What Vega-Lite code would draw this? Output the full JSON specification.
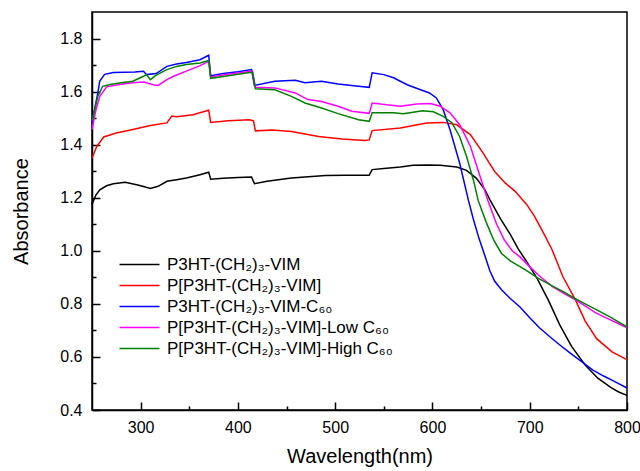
{
  "$schema": "https://vega.github.io/schema/vega-lite/v6.json",
  "width": 535,
  "height": 398,
  "autosize": {"type": "none"},
  "padding": {"left": 92, "top": 12, "right": 13, "bottom": 61},
  "background": "white",
  "config": {
    "font": "Liberation Sans",
    "view": {"stroke": "black", "strokeWidth": 1.5},
    "axis": {
      "grid": false,
      "domainColor": "black",
      "domainWidth": 1.5,
      "tickColor": "black",
      "tickWidth": 1.5,
      "labelColor": "black",
      "labelFont": "Liberation Sans",
      "labelFontSize": 16,
      "titleFont": "Liberation Sans",
      "titleFontSize": 20,
      "titleFontWeight": "normal",
      "titleColor": "black"
    }
  },
  "data": {"values": [
    {"s":"P3HT-(CH₂)₃-VIM","w":250,"a":1.175},{"s":"P3HT-(CH₂)₃-VIM","w":254,"a":1.21},{"s":"P3HT-(CH₂)₃-VIM","w":258,"a":1.23},{"s":"P3HT-(CH₂)₃-VIM","w":265,"a":1.245},{"s":"P3HT-(CH₂)₃-VIM","w":272,"a":1.253},{"s":"P3HT-(CH₂)₃-VIM","w":284,"a":1.258},{"s":"P3HT-(CH₂)₃-VIM","w":296,"a":1.249},{"s":"P3HT-(CH₂)₃-VIM","w":303,"a":1.242},{"s":"P3HT-(CH₂)₃-VIM","w":310,"a":1.235},{"s":"P3HT-(CH₂)₃-VIM","w":318,"a":1.243},{"s":"P3HT-(CH₂)₃-VIM","w":327,"a":1.262},{"s":"P3HT-(CH₂)₃-VIM","w":337,"a":1.268},{"s":"P3HT-(CH₂)₃-VIM","w":347,"a":1.274},{"s":"P3HT-(CH₂)₃-VIM","w":361,"a":1.287},{"s":"P3HT-(CH₂)₃-VIM","w":370,"a":1.296},{"s":"P3HT-(CH₂)₃-VIM","w":372,"a":1.27},{"s":"P3HT-(CH₂)₃-VIM","w":385,"a":1.273},{"s":"P3HT-(CH₂)₃-VIM","w":400,"a":1.276},{"s":"P3HT-(CH₂)₃-VIM","w":414,"a":1.278},{"s":"P3HT-(CH₂)₃-VIM","w":417,"a":1.253},{"s":"P3HT-(CH₂)₃-VIM","w":430,"a":1.262},{"s":"P3HT-(CH₂)₃-VIM","w":455,"a":1.274},{"s":"P3HT-(CH₂)₃-VIM","w":490,"a":1.284},{"s":"P3HT-(CH₂)₃-VIM","w":510,"a":1.285},{"s":"P3HT-(CH₂)₃-VIM","w":535,"a":1.285},{"s":"P3HT-(CH₂)₃-VIM","w":538,"a":1.306},{"s":"P3HT-(CH₂)₃-VIM","w":550,"a":1.31},{"s":"P3HT-(CH₂)₃-VIM","w":567,"a":1.316},{"s":"P3HT-(CH₂)₃-VIM","w":580,"a":1.322},{"s":"P3HT-(CH₂)₃-VIM","w":595,"a":1.323},{"s":"P3HT-(CH₂)₃-VIM","w":608,"a":1.322},{"s":"P3HT-(CH₂)₃-VIM","w":625,"a":1.316},{"s":"P3HT-(CH₂)₃-VIM","w":635,"a":1.303},{"s":"P3HT-(CH₂)₃-VIM","w":645,"a":1.274},{"s":"P3HT-(CH₂)₃-VIM","w":654,"a":1.23},{"s":"P3HT-(CH₂)₃-VIM","w":659,"a":1.193},{"s":"P3HT-(CH₂)₃-VIM","w":664,"a":1.16},{"s":"P3HT-(CH₂)₃-VIM","w":670,"a":1.12},{"s":"P3HT-(CH₂)₃-VIM","w":680,"a":1.062},{"s":"P3HT-(CH₂)₃-VIM","w":688,"a":1.008},{"s":"P3HT-(CH₂)₃-VIM","w":697,"a":0.958},{"s":"P3HT-(CH₂)₃-VIM","w":708,"a":0.893},{"s":"P3HT-(CH₂)₃-VIM","w":719,"a":0.815},{"s":"P3HT-(CH₂)₃-VIM","w":731,"a":0.72},{"s":"P3HT-(CH₂)₃-VIM","w":743,"a":0.64},{"s":"P3HT-(CH₂)₃-VIM","w":757,"a":0.57},{"s":"P3HT-(CH₂)₃-VIM","w":770,"a":0.52},{"s":"P3HT-(CH₂)₃-VIM","w":784,"a":0.483},{"s":"P3HT-(CH₂)₃-VIM","w":792,"a":0.467},{"s":"P3HT-(CH₂)₃-VIM","w":800,"a":0.455},

    {"s":"P[P3HT-(CH₂)₃-VIM]","w":250,"a":1.35},{"s":"P[P3HT-(CH₂)₃-VIM]","w":255,"a":1.394},{"s":"P[P3HT-(CH₂)₃-VIM]","w":262,"a":1.429},{"s":"P[P3HT-(CH₂)₃-VIM]","w":275,"a":1.444},{"s":"P[P3HT-(CH₂)₃-VIM]","w":292,"a":1.457},{"s":"P[P3HT-(CH₂)₃-VIM]","w":310,"a":1.472},{"s":"P[P3HT-(CH₂)₃-VIM]","w":327,"a":1.482},{"s":"P[P3HT-(CH₂)₃-VIM]","w":332,"a":1.508},{"s":"P[P3HT-(CH₂)₃-VIM]","w":337,"a":1.505},{"s":"P[P3HT-(CH₂)₃-VIM]","w":354,"a":1.513},{"s":"P[P3HT-(CH₂)₃-VIM]","w":368,"a":1.528},{"s":"P[P3HT-(CH₂)₃-VIM]","w":370,"a":1.53},{"s":"P[P3HT-(CH₂)₃-VIM]","w":372,"a":1.484},{"s":"P[P3HT-(CH₂)₃-VIM]","w":390,"a":1.49},{"s":"P[P3HT-(CH₂)₃-VIM]","w":412,"a":1.494},{"s":"P[P3HT-(CH₂)₃-VIM]","w":416,"a":1.49},{"s":"P[P3HT-(CH₂)₃-VIM]","w":418,"a":1.452},{"s":"P[P3HT-(CH₂)₃-VIM]","w":435,"a":1.455},{"s":"P[P3HT-(CH₂)₃-VIM]","w":455,"a":1.45},{"s":"P[P3HT-(CH₂)₃-VIM]","w":483,"a":1.431},{"s":"P[P3HT-(CH₂)₃-VIM]","w":507,"a":1.421},{"s":"P[P3HT-(CH₂)₃-VIM]","w":531,"a":1.416},{"s":"P[P3HT-(CH₂)₃-VIM]","w":535,"a":1.418},{"s":"P[P3HT-(CH₂)₃-VIM]","w":538,"a":1.453},{"s":"P[P3HT-(CH₂)₃-VIM]","w":567,"a":1.463},{"s":"P[P3HT-(CH₂)₃-VIM]","w":594,"a":1.482},{"s":"P[P3HT-(CH₂)₃-VIM]","w":611,"a":1.484},{"s":"P[P3HT-(CH₂)₃-VIM]","w":625,"a":1.475},{"s":"P[P3HT-(CH₂)₃-VIM]","w":639,"a":1.438},{"s":"P[P3HT-(CH₂)₃-VIM]","w":652,"a":1.369},{"s":"P[P3HT-(CH₂)₃-VIM]","w":658,"a":1.333},{"s":"P[P3HT-(CH₂)₃-VIM]","w":664,"a":1.299},{"s":"P[P3HT-(CH₂)₃-VIM]","w":675,"a":1.255},{"s":"P[P3HT-(CH₂)₃-VIM]","w":685,"a":1.224},{"s":"P[P3HT-(CH₂)₃-VIM]","w":697,"a":1.174},{"s":"P[P3HT-(CH₂)₃-VIM]","w":705,"a":1.13},{"s":"P[P3HT-(CH₂)₃-VIM]","w":716,"a":1.054},{"s":"P[P3HT-(CH₂)₃-VIM]","w":723,"a":1.004},{"s":"P[P3HT-(CH₂)₃-VIM]","w":734,"a":0.903},{"s":"P[P3HT-(CH₂)₃-VIM]","w":747,"a":0.815},{"s":"P[P3HT-(CH₂)₃-VIM]","w":757,"a":0.735},{"s":"P[P3HT-(CH₂)₃-VIM]","w":769,"a":0.668},{"s":"P[P3HT-(CH₂)₃-VIM]","w":785,"a":0.618},{"s":"P[P3HT-(CH₂)₃-VIM]","w":800,"a":0.59},

    {"s":"P3HT-(CH₂)₃-VIM-C₆₀","w":250,"a":1.48},{"s":"P3HT-(CH₂)₃-VIM-C₆₀","w":253,"a":1.54},{"s":"P3HT-(CH₂)₃-VIM-C₆₀","w":256,"a":1.595},{"s":"P3HT-(CH₂)₃-VIM-C₆₀","w":258,"a":1.64},{"s":"P3HT-(CH₂)₃-VIM-C₆₀","w":263,"a":1.665},{"s":"P3HT-(CH₂)₃-VIM-C₆₀","w":272,"a":1.672},{"s":"P3HT-(CH₂)₃-VIM-C₆₀","w":294,"a":1.674},{"s":"P3HT-(CH₂)₃-VIM-C₆₀","w":303,"a":1.677},{"s":"P3HT-(CH₂)₃-VIM-C₆₀","w":306,"a":1.664},{"s":"P3HT-(CH₂)₃-VIM-C₆₀","w":316,"a":1.668},{"s":"P3HT-(CH₂)₃-VIM-C₆₀","w":327,"a":1.695},{"s":"P3HT-(CH₂)₃-VIM-C₆₀","w":337,"a":1.704},{"s":"P3HT-(CH₂)₃-VIM-C₆₀","w":347,"a":1.71},{"s":"P3HT-(CH₂)₃-VIM-C₆₀","w":361,"a":1.72},{"s":"P3HT-(CH₂)₃-VIM-C₆₀","w":370,"a":1.737},{"s":"P3HT-(CH₂)₃-VIM-C₆₀","w":372,"a":1.66},{"s":"P3HT-(CH₂)₃-VIM-C₆₀","w":385,"a":1.668},{"s":"P3HT-(CH₂)₃-VIM-C₆₀","w":400,"a":1.675},{"s":"P3HT-(CH₂)₃-VIM-C₆₀","w":414,"a":1.683},{"s":"P3HT-(CH₂)₃-VIM-C₆₀","w":417,"a":1.623},{"s":"P3HT-(CH₂)₃-VIM-C₆₀","w":438,"a":1.639},{"s":"P3HT-(CH₂)₃-VIM-C₆₀","w":459,"a":1.643},{"s":"P3HT-(CH₂)₃-VIM-C₆₀","w":469,"a":1.633},{"s":"P3HT-(CH₂)₃-VIM-C₆₀","w":486,"a":1.639},{"s":"P3HT-(CH₂)₃-VIM-C₆₀","w":503,"a":1.629},{"s":"P3HT-(CH₂)₃-VIM-C₆₀","w":524,"a":1.62},{"s":"P3HT-(CH₂)₃-VIM-C₆₀","w":535,"a":1.616},{"s":"P3HT-(CH₂)₃-VIM-C₆₀","w":538,"a":1.671},{"s":"P3HT-(CH₂)₃-VIM-C₆₀","w":550,"a":1.664},{"s":"P3HT-(CH₂)₃-VIM-C₆₀","w":560,"a":1.652},{"s":"P3HT-(CH₂)₃-VIM-C₆₀","w":574,"a":1.626},{"s":"P3HT-(CH₂)₃-VIM-C₆₀","w":587,"a":1.608},{"s":"P3HT-(CH₂)₃-VIM-C₆₀","w":597,"a":1.595},{"s":"P3HT-(CH₂)₃-VIM-C₆₀","w":604,"a":1.576},{"s":"P3HT-(CH₂)₃-VIM-C₆₀","w":611,"a":1.532},{"s":"P3HT-(CH₂)₃-VIM-C₆₀","w":618,"a":1.457},{"s":"P3HT-(CH₂)₃-VIM-C₆₀","w":628,"a":1.33},{"s":"P3HT-(CH₂)₃-VIM-C₆₀","w":637,"a":1.19},{"s":"P3HT-(CH₂)₃-VIM-C₆₀","w":642,"a":1.12},{"s":"P3HT-(CH₂)₃-VIM-C₆₀","w":648,"a":1.045},{"s":"P3HT-(CH₂)₃-VIM-C₆₀","w":654,"a":0.98},{"s":"P3HT-(CH₂)₃-VIM-C₆₀","w":659,"a":0.925},{"s":"P3HT-(CH₂)₃-VIM-C₆₀","w":664,"a":0.885},{"s":"P3HT-(CH₂)₃-VIM-C₆₀","w":671,"a":0.853},{"s":"P3HT-(CH₂)₃-VIM-C₆₀","w":680,"a":0.82},{"s":"P3HT-(CH₂)₃-VIM-C₆₀","w":690,"a":0.788},{"s":"P3HT-(CH₂)₃-VIM-C₆₀","w":700,"a":0.748},{"s":"P3HT-(CH₂)₃-VIM-C₆₀","w":710,"a":0.71},{"s":"P3HT-(CH₂)₃-VIM-C₆₀","w":721,"a":0.675},{"s":"P3HT-(CH₂)₃-VIM-C₆₀","w":731,"a":0.645},{"s":"P3HT-(CH₂)₃-VIM-C₆₀","w":741,"a":0.616},{"s":"P3HT-(CH₂)₃-VIM-C₆₀","w":753,"a":0.583},{"s":"P3HT-(CH₂)₃-VIM-C₆₀","w":765,"a":0.55},{"s":"P3HT-(CH₂)₃-VIM-C₆₀","w":776,"a":0.528},{"s":"P3HT-(CH₂)₃-VIM-C₆₀","w":786,"a":0.51},{"s":"P3HT-(CH₂)₃-VIM-C₆₀","w":800,"a":0.483},

    {"s":"P[P3HT-(CH₂)₃-VIM]-Low C₆₀","w":250,"a":1.458},{"s":"P[P3HT-(CH₂)₃-VIM]-Low C₆₀","w":254,"a":1.53},{"s":"P[P3HT-(CH₂)₃-VIM]-Low C₆₀","w":258,"a":1.582},{"s":"P[P3HT-(CH₂)₃-VIM]-Low C₆₀","w":265,"a":1.618},{"s":"P[P3HT-(CH₂)₃-VIM]-Low C₆₀","w":280,"a":1.628},{"s":"P[P3HT-(CH₂)₃-VIM]-Low C₆₀","w":292,"a":1.633},{"s":"P[P3HT-(CH₂)₃-VIM]-Low C₆₀","w":303,"a":1.636},{"s":"P[P3HT-(CH₂)₃-VIM]-Low C₆₀","w":313,"a":1.626},{"s":"P[P3HT-(CH₂)₃-VIM]-Low C₆₀","w":318,"a":1.623},{"s":"P[P3HT-(CH₂)₃-VIM]-Low C₆₀","w":327,"a":1.645},{"s":"P[P3HT-(CH₂)₃-VIM]-Low C₆₀","w":334,"a":1.658},{"s":"P[P3HT-(CH₂)₃-VIM]-Low C₆₀","w":347,"a":1.677},{"s":"P[P3HT-(CH₂)₃-VIM]-Low C₆₀","w":361,"a":1.698},{"s":"P[P3HT-(CH₂)₃-VIM]-Low C₆₀","w":370,"a":1.714},{"s":"P[P3HT-(CH₂)₃-VIM]-Low C₆₀","w":372,"a":1.655},{"s":"P[P3HT-(CH₂)₃-VIM]-Low C₆₀","w":390,"a":1.665},{"s":"P[P3HT-(CH₂)₃-VIM]-Low C₆₀","w":412,"a":1.676},{"s":"P[P3HT-(CH₂)₃-VIM]-Low C₆₀","w":415,"a":1.677},{"s":"P[P3HT-(CH₂)₃-VIM]-Low C₆₀","w":418,"a":1.616},{"s":"P[P3HT-(CH₂)₃-VIM]-Low C₆₀","w":438,"a":1.614},{"s":"P[P3HT-(CH₂)₃-VIM]-Low C₆₀","w":459,"a":1.595},{"s":"P[P3HT-(CH₂)₃-VIM]-Low C₆₀","w":472,"a":1.57},{"s":"P[P3HT-(CH₂)₃-VIM]-Low C₆₀","w":486,"a":1.563},{"s":"P[P3HT-(CH₂)₃-VIM]-Low C₆₀","w":503,"a":1.545},{"s":"P[P3HT-(CH₂)₃-VIM]-Low C₆₀","w":517,"a":1.526},{"s":"P[P3HT-(CH₂)₃-VIM]-Low C₆₀","w":535,"a":1.518},{"s":"P[P3HT-(CH₂)₃-VIM]-Low C₆₀","w":538,"a":1.557},{"s":"P[P3HT-(CH₂)₃-VIM]-Low C₆₀","w":553,"a":1.55},{"s":"P[P3HT-(CH₂)₃-VIM]-Low C₆₀","w":567,"a":1.545},{"s":"P[P3HT-(CH₂)₃-VIM]-Low C₆₀","w":584,"a":1.553},{"s":"P[P3HT-(CH₂)₃-VIM]-Low C₆₀","w":598,"a":1.555},{"s":"P[P3HT-(CH₂)₃-VIM]-Low C₆₀","w":608,"a":1.545},{"s":"P[P3HT-(CH₂)₃-VIM]-Low C₆₀","w":618,"a":1.52},{"s":"P[P3HT-(CH₂)₃-VIM]-Low C₆₀","w":628,"a":1.475},{"s":"P[P3HT-(CH₂)₃-VIM]-Low C₆₀","w":639,"a":1.394},{"s":"P[P3HT-(CH₂)₃-VIM]-Low C₆₀","w":649,"a":1.28},{"s":"P[P3HT-(CH₂)₃-VIM]-Low C₆₀","w":657,"a":1.19},{"s":"P[P3HT-(CH₂)₃-VIM]-Low C₆₀","w":662,"a":1.14},{"s":"P[P3HT-(CH₂)₃-VIM]-Low C₆₀","w":666,"a":1.1},{"s":"P[P3HT-(CH₂)₃-VIM]-Low C₆₀","w":674,"a":1.04},{"s":"P[P3HT-(CH₂)₃-VIM]-Low C₆₀","w":682,"a":1.0},{"s":"P[P3HT-(CH₂)₃-VIM]-Low C₆₀","w":690,"a":0.977},{"s":"P[P3HT-(CH₂)₃-VIM]-Low C₆₀","w":698,"a":0.947},{"s":"P[P3HT-(CH₂)₃-VIM]-Low C₆₀","w":710,"a":0.905},{"s":"P[P3HT-(CH₂)₃-VIM]-Low C₆₀","w":723,"a":0.866},{"s":"P[P3HT-(CH₂)₃-VIM]-Low C₆₀","w":735,"a":0.84},{"s":"P[P3HT-(CH₂)₃-VIM]-Low C₆₀","w":747,"a":0.815},{"s":"P[P3HT-(CH₂)₃-VIM]-Low C₆₀","w":757,"a":0.792},{"s":"P[P3HT-(CH₂)₃-VIM]-Low C₆₀","w":767,"a":0.768},{"s":"P[P3HT-(CH₂)₃-VIM]-Low C₆₀","w":778,"a":0.748},{"s":"P[P3HT-(CH₂)₃-VIM]-Low C₆₀","w":790,"a":0.728},{"s":"P[P3HT-(CH₂)₃-VIM]-Low C₆₀","w":800,"a":0.71},

    {"s":"P[P3HT-(CH₂)₃-VIM]-High C₆₀","w":250,"a":1.49},{"s":"P[P3HT-(CH₂)₃-VIM]-High C₆₀","w":253,"a":1.535},{"s":"P[P3HT-(CH₂)₃-VIM]-High C₆₀","w":256,"a":1.582},{"s":"P[P3HT-(CH₂)₃-VIM]-High C₆₀","w":261,"a":1.62},{"s":"P[P3HT-(CH₂)₃-VIM]-High C₆₀","w":270,"a":1.628},{"s":"P[P3HT-(CH₂)₃-VIM]-High C₆₀","w":280,"a":1.633},{"s":"P[P3HT-(CH₂)₃-VIM]-High C₆₀","w":292,"a":1.639},{"s":"P[P3HT-(CH₂)₃-VIM]-High C₆₀","w":303,"a":1.658},{"s":"P[P3HT-(CH₂)₃-VIM]-High C₆₀","w":306,"a":1.664},{"s":"P[P3HT-(CH₂)₃-VIM]-High C₆₀","w":310,"a":1.645},{"s":"P[P3HT-(CH₂)₃-VIM]-High C₆₀","w":316,"a":1.662},{"s":"P[P3HT-(CH₂)₃-VIM]-High C₆₀","w":327,"a":1.683},{"s":"P[P3HT-(CH₂)₃-VIM]-High C₆₀","w":337,"a":1.695},{"s":"P[P3HT-(CH₂)₃-VIM]-High C₆₀","w":347,"a":1.702},{"s":"P[P3HT-(CH₂)₃-VIM]-High C₆₀","w":361,"a":1.708},{"s":"P[P3HT-(CH₂)₃-VIM]-High C₆₀","w":370,"a":1.717},{"s":"P[P3HT-(CH₂)₃-VIM]-High C₆₀","w":372,"a":1.65},{"s":"P[P3HT-(CH₂)₃-VIM]-High C₆₀","w":390,"a":1.66},{"s":"P[P3HT-(CH₂)₃-VIM]-High C₆₀","w":412,"a":1.672},{"s":"P[P3HT-(CH₂)₃-VIM]-High C₆₀","w":415,"a":1.673},{"s":"P[P3HT-(CH₂)₃-VIM]-High C₆₀","w":418,"a":1.611},{"s":"P[P3HT-(CH₂)₃-VIM]-High C₆₀","w":438,"a":1.607},{"s":"P[P3HT-(CH₂)₃-VIM]-High C₆₀","w":455,"a":1.582},{"s":"P[P3HT-(CH₂)₃-VIM]-High C₆₀","w":469,"a":1.557},{"s":"P[P3HT-(CH₂)₃-VIM]-High C₆₀","w":486,"a":1.538},{"s":"P[P3HT-(CH₂)₃-VIM]-High C₆₀","w":503,"a":1.517},{"s":"P[P3HT-(CH₂)₃-VIM]-High C₆₀","w":524,"a":1.494},{"s":"P[P3HT-(CH₂)₃-VIM]-High C₆₀","w":535,"a":1.488},{"s":"P[P3HT-(CH₂)₃-VIM]-High C₆₀","w":538,"a":1.52},{"s":"P[P3HT-(CH₂)₃-VIM]-High C₆₀","w":560,"a":1.52},{"s":"P[P3HT-(CH₂)₃-VIM]-High C₆₀","w":570,"a":1.517},{"s":"P[P3HT-(CH₂)₃-VIM]-High C₆₀","w":590,"a":1.528},{"s":"P[P3HT-(CH₂)₃-VIM]-High C₆₀","w":601,"a":1.524},{"s":"P[P3HT-(CH₂)₃-VIM]-High C₆₀","w":611,"a":1.507},{"s":"P[P3HT-(CH₂)₃-VIM]-High C₆₀","w":620,"a":1.483},{"s":"P[P3HT-(CH₂)₃-VIM]-High C₆₀","w":628,"a":1.43},{"s":"P[P3HT-(CH₂)₃-VIM]-High C₆₀","w":635,"a":1.356},{"s":"P[P3HT-(CH₂)₃-VIM]-High C₆₀","w":642,"a":1.268},{"s":"P[P3HT-(CH₂)₃-VIM]-High C₆₀","w":647,"a":1.19},{"s":"P[P3HT-(CH₂)₃-VIM]-High C₆₀","w":655,"a":1.11},{"s":"P[P3HT-(CH₂)₃-VIM]-High C₆₀","w":663,"a":1.04},{"s":"P[P3HT-(CH₂)₃-VIM]-High C₆₀","w":671,"a":0.99},{"s":"P[P3HT-(CH₂)₃-VIM]-High C₆₀","w":680,"a":0.962},{"s":"P[P3HT-(CH₂)₃-VIM]-High C₆₀","w":690,"a":0.94},{"s":"P[P3HT-(CH₂)₃-VIM]-High C₆₀","w":700,"a":0.918},{"s":"P[P3HT-(CH₂)₃-VIM]-High C₆₀","w":708,"a":0.898},{"s":"P[P3HT-(CH₂)₃-VIM]-High C₆₀","w":724,"a":0.866},{"s":"P[P3HT-(CH₂)₃-VIM]-High C₆₀","w":735,"a":0.845},{"s":"P[P3HT-(CH₂)₃-VIM]-High C₆₀","w":745,"a":0.823},{"s":"P[P3HT-(CH₂)₃-VIM]-High C₆₀","w":755,"a":0.804},{"s":"P[P3HT-(CH₂)₃-VIM]-High C₆₀","w":765,"a":0.785},{"s":"P[P3HT-(CH₂)₃-VIM]-High C₆₀","w":782,"a":0.752},{"s":"P[P3HT-(CH₂)₃-VIM]-High C₆₀","w":800,"a":0.713}
  ]},
  "mark": {"type": "line", "strokeWidth": 1.5},
  "encoding": {
    "x": {
      "field": "w", "type": "quantitative",
      "scale": {"domain": [250, 800], "nice": false, "zero": false},
      "axis": {
        "title": "Wavelength(nm)",
        "values": [300, 350, 400, 450, 500, 550, 600, 650, 700, 750, 800],
        "labelExpr": "datum.value % 100 === 0 ? datum.label : ''",
        "tickSize": {"condition": {"test": "datum.value % 100 === 0", "value": -8}, "value": -4},
        "labelPadding": 17,
        "labelFlush": false,
        "titlePadding": 11
      }
    },
    "y": {
      "field": "a", "type": "quantitative",
      "scale": {"domain": [0.4, 1.9], "nice": false, "zero": false},
      "axis": {
        "title": "Absorbance",
        "values": [0.4, 0.5, 0.6, 0.7, 0.8, 0.9, 1.0, 1.1, 1.2, 1.3, 1.4, 1.5, 1.6, 1.7, 1.8],
        "labelExpr": "round(datum.value * 10) % 2 === 0 ? format(datum.value, '.1f') : ''",
        "tickSize": {"condition": {"test": "round(datum.value * 10) % 2 === 0", "value": -8}, "value": -4},
        "labelPadding": 18,
        "labelFlush": false,
        "titlePadding": 28
      }
    },
    "color": {
      "field": "s", "type": "nominal",
      "scale": {
        "domain": ["P3HT-(CH₂)₃-VIM", "P[P3HT-(CH₂)₃-VIM]", "P3HT-(CH₂)₃-VIM-C₆₀", "P[P3HT-(CH₂)₃-VIM]-Low C₆₀", "P[P3HT-(CH₂)₃-VIM]-High C₆₀"],
        "range": ["#000000", "#ff0000", "#0000ff", "#ff00ff", "#008000"]
      },
      "legend": {
        "title": null,
        "orient": "none",
        "legendX": 39,
        "legendY": 244,
        "symbolType": "M-4,0H4",
        "symbolSize": 100,
        "symbolStrokeWidth": 1.5,
        "labelFontSize": 17,
        "labelFont": "Liberation Sans",
        "labelColor": "black",
        "labelOffset": 19,
        "labelLimit": 400,
        "rowPadding": 3,
        "padding": 0
      }
    }
  }
}
